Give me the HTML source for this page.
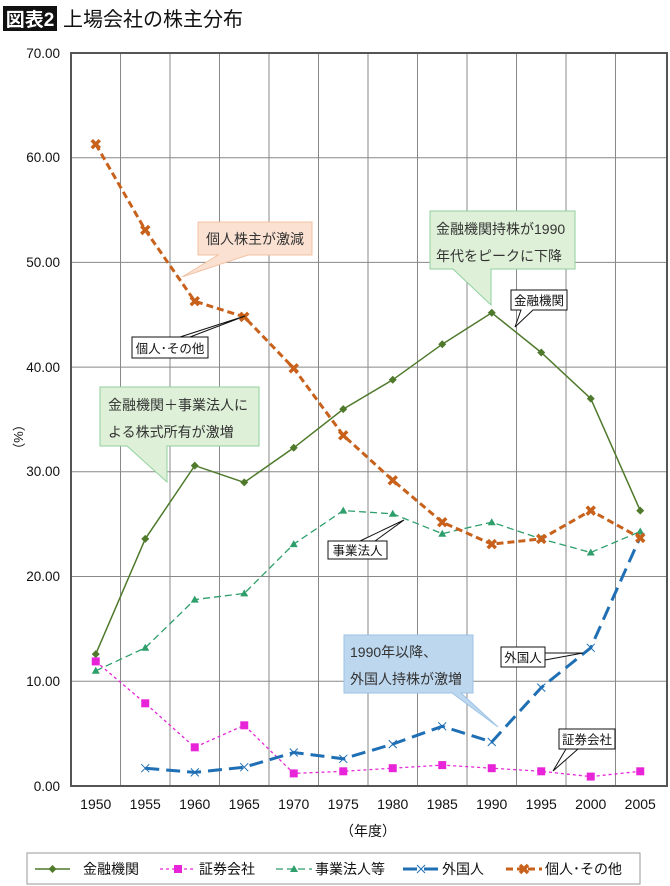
<!DOCTYPE html>
<html><head><meta charset="utf-8"><style>
html,body{margin:0;padding:0;background:#fff;}
svg{display:block;font-family:"Liberation Sans","Noto Sans CJK JP",sans-serif;}
</style></head><body>
<svg width="670" height="886" viewBox="0 0 670 886" xmlns="http://www.w3.org/2000/svg">
<defs>
<g id="xm"><path d="M-4,-4L4,4M4,-4L-4,4" stroke="#c8611b" stroke-width="3.5"/><rect x="-2.5" y="-2.5" width="5" height="5" fill="#c8611b"/></g>
</defs>
<rect x="0" y="0" width="670" height="886" fill="#fff"/>
<rect x="3" y="6" width="54" height="25" fill="#111"/>
<text x="30" y="26" font-size="19" font-weight="bold" fill="#fff" text-anchor="middle">図表2</text>
<text x="63" y="26" font-size="20" fill="#111">上場会社の株主分布</text>

<g stroke="#888" stroke-width="1">
<line x1="71" y1="157.7" x2="667" y2="157.7"/>
<line x1="71" y1="262.4" x2="667" y2="262.4"/>
<line x1="71" y1="367.1" x2="667" y2="367.1"/>
<line x1="71" y1="471.8" x2="667" y2="471.8"/>
<line x1="71" y1="576.5" x2="667" y2="576.5"/>
<line x1="71" y1="681.2" x2="667" y2="681.2"/>
<line x1="120.5" y1="53" x2="120.5" y2="786"/>
<line x1="170" y1="53" x2="170" y2="786"/>
<line x1="219.5" y1="53" x2="219.5" y2="786"/>
<line x1="269" y1="53" x2="269" y2="786"/>
<line x1="318.5" y1="53" x2="318.5" y2="786"/>
<line x1="368" y1="53" x2="368" y2="786"/>
<line x1="417.5" y1="53" x2="417.5" y2="786"/>
<line x1="467" y1="53" x2="467" y2="786"/>
<line x1="516.5" y1="53" x2="516.5" y2="786"/>
<line x1="566" y1="53" x2="566" y2="786"/>
<line x1="615.5" y1="53" x2="615.5" y2="786"/>
</g>
<rect x="71" y="53" width="596" height="733" fill="none" stroke="#555" stroke-width="2"/>

<g font-size="13.5" fill="#111" text-anchor="end">
<text x="60" y="58">70.00</text>
<text x="60" y="162">60.00</text>
<text x="60" y="267">50.00</text>
<text x="60" y="372">40.00</text>
<text x="60" y="476">30.00</text>
<text x="60" y="581">20.00</text>
<text x="60" y="686">10.00</text>
<text x="60" y="791">0.00</text>
</g>
<text x="14" y="437" font-size="13" fill="#111" text-anchor="middle" transform="rotate(90 14 437)">（%）</text>
<g font-size="14" fill="#111" text-anchor="middle">
<text x="95.75" y="809">1950</text><text x="145.25" y="809">1955</text><text x="194.75" y="809">1960</text>
<text x="244.25" y="809">1965</text><text x="293.75" y="809">1970</text><text x="343.25" y="809">1975</text>
<text x="392.75" y="809">1980</text><text x="442.25" y="809">1985</text><text x="491.75" y="809">1990</text>
<text x="541.25" y="809">1995</text><text x="590.75" y="809">2000</text><text x="640.25" y="809">2005</text>
</g>
<text x="368" y="836" font-size="14" fill="#111" text-anchor="middle">（年度）</text>

<polyline fill="none" stroke="#2e9e6b" stroke-width="1.3" stroke-dasharray="7,4" points="95.75,670.8 145.25,647.8 194.75,599.6 244.25,593.4 293.75,544.1 343.25,510.6 392.75,513.8 442.25,533.7 491.75,522.2 541.25,538.9 590.75,552.5 640.25,531.5"/>
<g fill="#2e9e6b">
<path d="M95.75,666.8l4,7h-8z"/><path d="M145.25,643.8l4,7h-8z"/><path d="M194.75,595.6l4,7h-8z"/><path d="M244.25,589.4l4,7h-8z"/><path d="M293.75,540.1l4,7h-8z"/><path d="M343.25,506.6l4,7h-8z"/><path d="M392.75,509.8l4,7h-8z"/><path d="M442.25,529.7l4,7h-8z"/><path d="M491.75,518.2l4,7h-8z"/><path d="M541.25,534.9l4,7h-8z"/><path d="M590.75,548.5l4,7h-8z"/><path d="M640.25,527.5l4,7h-8z"/>
</g>
<polyline fill="none" stroke="#4f7a2c" stroke-width="1.5" points="95.75,654.1 145.25,538.9 194.75,465.6 244.25,482.4 293.75,447.8 343.25,409.1 392.75,379.8 442.25,344.2 491.75,312.8 541.25,352.5 590.75,398.6 640.25,510.6"/>
<g fill="#4f7a2c">
<path d="M95.75,650.1l4,4l-4,4l-4,-4z"/><path d="M145.25,534.9l4,4l-4,4l-4,-4z"/><path d="M194.75,461.6l4,4l-4,4l-4,-4z"/><path d="M244.25,478.4l4,4l-4,4l-4,-4z"/><path d="M293.75,443.8l4,4l-4,4l-4,-4z"/><path d="M343.25,405.1l4,4l-4,4l-4,-4z"/><path d="M392.75,375.8l4,4l-4,4l-4,-4z"/><path d="M442.25,340.2l4,4l-4,4l-4,-4z"/><path d="M491.75,308.8l4,4l-4,4l-4,-4z"/><path d="M541.25,348.5l4,4l-4,4l-4,-4z"/><path d="M590.75,394.6l4,4l-4,4l-4,-4z"/><path d="M640.25,506.6l4,4l-4,4l-4,-4z"/>
</g>
<polyline fill="none" stroke="#e824d8" stroke-width="1.3" stroke-dasharray="3,3" points="95.75,661.4 145.25,703.3 194.75,747.3 244.25,725.3 293.75,773.4 343.25,771.3 392.75,768.2 442.25,765.1 491.75,768.2 541.25,771.3 590.75,776.6 640.25,771.3"/>
<g fill="#e824d8">
<rect x="91.75" y="657.4" width="8" height="8"/><rect x="141.25" y="699.3" width="8" height="8"/><rect x="190.75" y="743.3" width="8" height="8"/><rect x="240.25" y="721.3" width="8" height="8"/><rect x="289.75" y="769.4" width="8" height="8"/><rect x="339.25" y="767.3" width="8" height="8"/><rect x="388.75" y="764.2" width="8" height="8"/><rect x="438.25" y="761.1" width="8" height="8"/><rect x="487.75" y="764.2" width="8" height="8"/><rect x="537.25" y="767.3" width="8" height="8"/><rect x="586.75" y="772.6" width="8" height="8"/><rect x="636.25" y="767.3" width="8" height="8"/>
</g>
<polyline fill="none" stroke="#1f6fb5" stroke-width="3" stroke-dasharray="14,7" points="145.25,768.2 194.75,772.4 244.25,767.2 293.75,752.5 343.25,758.8 392.75,744.1 442.25,726.3 491.75,742 541.25,687.6 590.75,647.8 640.25,537"/>
<g stroke="#1f6fb5" stroke-width="1">
<path d="M141.25,764.2l8,8m0,-8l-8,8"/><path d="M190.75,768.4l8,8m0,-8l-8,8"/><path d="M240.25,763.2l8,8m0,-8l-8,8"/><path d="M289.75,748.5l8,8m0,-8l-8,8"/><path d="M339.25,754.8l8,8m0,-8l-8,8"/><path d="M388.75,740.1l8,8m0,-8l-8,8"/><path d="M438.25,722.3l8,8m0,-8l-8,8"/><path d="M487.75,738l8,8m0,-8l-8,8"/><path d="M537.25,683.6l8,8m0,-8l-8,8"/><path d="M586.75,643.8l8,8m0,-8l-8,8"/><path d="M636.25,533l8,8m0,-8l-8,8"/>
</g>
<polyline fill="none" stroke="#c8611b" stroke-width="3" stroke-dasharray="7,4" points="95.75,144.2 145.25,230 194.75,301.2 244.25,316.9 293.75,368.3 343.25,435.3 392.75,480.3 442.25,522.2 491.75,544.1 541.25,538.9 590.75,510.6 640.25,537.9"/>
<use href="#xm" x="95.75" y="144.2"/><use href="#xm" x="145.25" y="230"/><use href="#xm" x="194.75" y="301.2"/><use href="#xm" x="244.25" y="316.9"/><use href="#xm" x="293.75" y="368.3"/><use href="#xm" x="343.25" y="435.3"/><use href="#xm" x="392.75" y="480.3"/><use href="#xm" x="442.25" y="522.2"/><use href="#xm" x="491.75" y="544.1"/><use href="#xm" x="541.25" y="538.9"/><use href="#xm" x="590.75" y="510.6"/><use href="#xm" x="640.25" y="537.9"/>

<path d="M198,222H312V255H248L182,277L218,255H198Z" fill="#fbe1d2" stroke="#f2c2a4" stroke-width="1"/>
<text x="255" y="244" font-size="14" fill="#333" text-anchor="middle">個人株主が激減</text>

<path d="M100,387H259V446H167V482L127,446H100Z" fill="#dff0d8" stroke="#8fd19e" stroke-width="1"/>
<text x="108" y="410" font-size="14" fill="#333">金融機関＋事業法人に</text>
<text x="108" y="437" font-size="14" fill="#333">よる株式所有が激増</text>

<path d="M430,211H575V269H491V305L453,269H430Z" fill="#dff0d8" stroke="#8fd19e" stroke-width="1"/>
<text x="436" y="234" font-size="14" fill="#333">金融機関持株が1990</text>
<text x="436" y="261" font-size="14" fill="#333">年代をピークに下降</text>

<path d="M344,635H473V693H461L498,727L452,693H344Z" fill="#bdd7ee" stroke="#9dc3e6" stroke-width="1"/>
<text x="350" y="657" font-size="14" fill="#333">1990年以降、</text>
<text x="350" y="684" font-size="14" fill="#333">外国人持株が激増</text>

<g stroke="#111" stroke-width="1" fill="#fff">
<path d="M511,290H567V310H533L515,327L521,310H511Z"/>
<path d="M180,337L245,316L190,337Z"/>
<rect x="132" y="337" width="76" height="21"/>
<rect x="328" y="541" width="59" height="18"/>
<path d="M360,541L404,520L375,541Z"/>
<rect x="501" y="647" width="44" height="20"/>
<path d="M545,653L583,653L545,660Z"/>
<rect x="559" y="729" width="56" height="20"/>
<path d="M566,749L553,771L578,749Z"/>
</g>
<g font-size="12.5" fill="#111" text-anchor="middle">
<text x="539" y="305">金融機関</text>
<text x="170" y="353">個人･その他</text>
<text x="357.5" y="555">事業法人</text>
<text x="523" y="662">外国人</text>
<text x="587" y="744">証券会社</text>
</g>

<rect x="27" y="853" width="613" height="31" fill="#fff" stroke="#999" stroke-width="1"/>
<g font-size="14" fill="#111">
<line x1="35" y1="869" x2="70" y2="869" stroke="#4f7a2c" stroke-width="1.5"/>
<path d="M52.5,865l4,4l-4,4l-4,-4z" fill="#4f7a2c"/>
<text x="83" y="874">金融機関</text>
<line x1="160" y1="869" x2="196" y2="869" stroke="#e824d8" stroke-width="1.3" stroke-dasharray="3,3"/>
<rect x="174" y="865" width="8" height="8" fill="#e824d8"/>
<text x="199" y="874">証券会社</text>
<line x1="276" y1="869" x2="312" y2="869" stroke="#2e9e6b" stroke-width="1.3" stroke-dasharray="7,4"/>
<path d="M294,865l4,7h-8z" fill="#2e9e6b"/>
<text x="315" y="874">事業法人等</text>
<line x1="403" y1="869" x2="438" y2="869" stroke="#1f6fb5" stroke-width="3" stroke-dasharray="14,7"/>
<path d="M417,865l8,8m0,-8l-8,8" stroke="#1f6fb5" stroke-width="1"/>
<text x="442" y="874">外国人</text>
<line x1="506" y1="869" x2="542" y2="869" stroke="#c8611b" stroke-width="3" stroke-dasharray="7,4"/>
<use href="#xm" x="524" y="869"/>
<text x="545" y="874">個人･その他</text>
</g>
</svg>
</body></html>
